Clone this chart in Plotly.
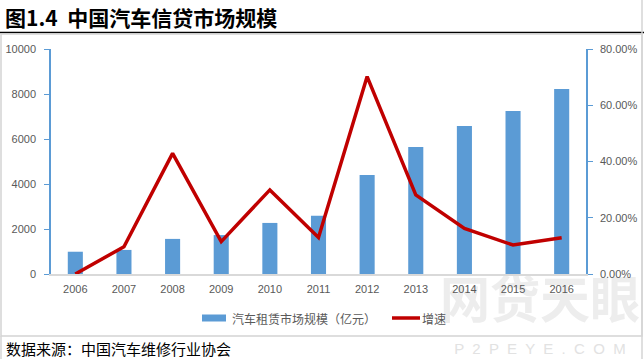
import plotly.graph_objects as go

years = ["2006", "2007", "2008", "2009", "2010", "2011", "2012", "2013", "2014", "2015", "2016"]
market_size = [990, 1070, 1560, 1730, 2270, 2590, 4400, 5650, 6580, 7240, 8220]
growth = [0.0, 0.097, 0.429, 0.115, 0.299, 0.130, 0.702, 0.281, 0.162, 0.103, 0.129]

bar_name = "汽车租赁市场规模（亿元）"
line_name = "增速"
title_text = "图1.4  中国汽车信贷市场规模"
source_text = "数据来源：中国汽车维修行业协会"

W, H = 644, 359
L, R, T, B = 51, 586, 49, 274

CJK = "Noto Sans CJK SC, Liberation Sans, sans-serif"
NUM = "Liberation Sans, Arial, Noto Sans CJK SC, sans-serif"
TICK_COLOR = "#595959"
BLUE = "#5b9bd5"
RED = "#c00000"

fig = go.Figure()
fig.add_trace(go.Bar(
    x=years, y=market_size, name=bar_name,
    marker=dict(color=BLUE, line=dict(width=0)),
    width=0.31, yaxis="y", showlegend=False,
))
fig.add_trace(go.Scatter(
    x=years, y=growth, name=line_name, mode="lines",
    line=dict(color=RED, width=3.5), yaxis="y2", showlegend=False,
))

fig.update_layout(
    width=W, height=H,
    margin=dict(l=L, r=W - R, t=T, b=H - B, pad=0, autoexpand=False),
    paper_bgcolor="white",
    plot_bgcolor="rgba(0,0,0,0)",
    font=dict(family=NUM, size=11, color=TICK_COLOR),
    xaxis=dict(
        type="category", showgrid=False, zeroline=False,
        showline=True, linecolor="#d9d9d9", linewidth=1.5,
        ticks="", tickfont=dict(family=NUM, size=11, color=TICK_COLOR),
        ticklabelstandoff=4,
    ),
    yaxis=dict(
        range=[0, 10000], dtick=2000, tickformat="d", showgrid=False, zeroline=False,
        showline=True, linecolor=BLUE, linewidth=1.5,
        ticks="outside", ticklen=5, tickcolor=BLUE, tickwidth=1.2,
        tickfont=dict(family=NUM, size=11, color=TICK_COLOR),
        ticklabelstandoff=6,
    ),
    yaxis2=dict(
        range=[0, 0.8], dtick=0.2, tickformat=".2%", overlaying="y", side="right",
        showgrid=False, zeroline=False,
        showline=True, linecolor=BLUE, linewidth=1.5,
        ticks="outside", ticklen=5, tickcolor=BLUE, tickwidth=1.2,
        tickfont=dict(family=NUM, size=11, color=TICK_COLOR),
        ticklabelstandoff=5,
    ),
    showlegend=False,
)


def px_x(x):
    return (x - L) / (R - L)


def px_y(y):
    return (B - y) / (B - T)


LEG_Y = 318
shapes = [
    dict(type="line", xref="paper", yref="paper", x0=px_x(0), x1=px_x(644),
         y0=px_y(32.5), y1=px_y(32.5), line=dict(color="black", width=1.5), layer="below"),
    dict(type="rect", xref="paper", yref="paper",
         x0=px_x(1), x1=px_x(642), y0=px_y(336), y1=px_y(34),
         line=dict(color="#d4d4d4", width=1.5), fillcolor="rgba(0,0,0,0)", layer="below"),
    dict(type="line", xref="paper", yref="paper",
         x0=px_x(1), x1=px_x(1), y0=px_y(359), y1=px_y(336),
         line=dict(color="#d4d4d4", width=1.5), layer="below"),
    dict(type="line", xref="paper", yref="paper",
         x0=px_x(642), x1=px_x(642), y0=px_y(359), y1=px_y(0),
         line=dict(color="#d4d4d4", width=1.5), layer="below"),
    # watermark
    dict(type="rect", xref="paper", yref="paper",
         x0=px_x(440), x1=px_x(640), y0=px_y(330), y1=px_y(278),
         line=dict(width=0), fillcolor="rgba(0,0,0,0)", layer="below",
         label=dict(text="<b>网贷天眼</b>", font=dict(family=CJK, size=50, color="#ededed"),
                    textposition="middle center")),
    dict(type="rect", xref="paper", yref="paper",
         x0=px_x(440), x1=px_x(640), y0=px_y(355), y1=px_y(339),
         line=dict(width=0), fillcolor="rgba(0,0,0,0)", layer="below",
         label=dict(text="P  2  P  E  Y  E  .  C  O  M", font=dict(family=NUM, size=15, color="#e2e2e2"),
                    textposition="middle center")),
    # legend keys
    dict(type="rect", xref="paper", yref="paper",
         x0=px_x(202), x1=px_x(226), y0=px_y(LEG_Y + 3.5), y1=px_y(LEG_Y - 3.5),
         line=dict(width=0), fillcolor=BLUE),
    dict(type="line", xref="paper", yref="paper",
         x0=px_x(392), x1=px_x(420), y0=px_y(LEG_Y), y1=px_y(LEG_Y),
         line=dict(color=RED, width=3.5)),
]
fig.update_layout(shapes=shapes)

annotations = [
    dict(text="<b>" + title_text + "</b>", xref="paper", yref="paper",
         x=px_x(3), y=px_y(17), xanchor="left", yanchor="middle", showarrow=False,
         font=dict(family=CJK, size=21, color="black")),
    dict(text=source_text, xref="paper", yref="paper",
         x=px_x(4), y=px_y(348), xanchor="left", yanchor="middle", showarrow=False,
         font=dict(family=CJK, size=15, color="black")),
    dict(text=bar_name, xref="paper", yref="paper",
         x=px_x(230), y=px_y(LEG_Y), xanchor="left", yanchor="middle", showarrow=False,
         font=dict(family=CJK, size=12, color=TICK_COLOR)),
    dict(text=line_name, xref="paper", yref="paper",
         x=px_x(420), y=px_y(LEG_Y), xanchor="left", yanchor="middle", showarrow=False,
         font=dict(family=CJK, size=12, color=TICK_COLOR)),
]
fig.update_layout(annotations=annotations)

fig.write_html(
    "out.html",
    config={"displayModeBar": False},
    post_script="document.body.style.margin='0';document.body.style.overflow='hidden';",
)
